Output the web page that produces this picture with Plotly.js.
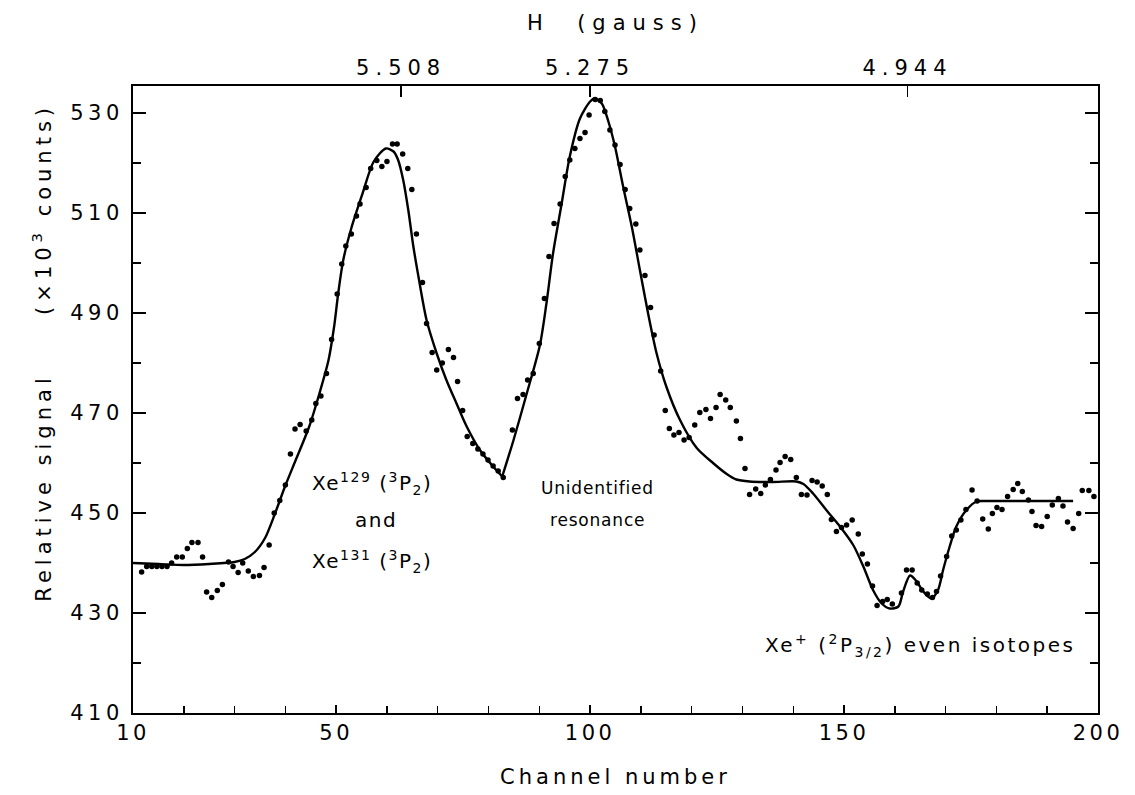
<!DOCTYPE html>
<html>
<head>
<meta charset="utf-8">
<script src="https://cdn.plot.ly/plotly-3.0.1.min.js"></script>
<style>
  body { margin: 0; background: #fff; }
  #chart { width: 1135px; height: 795px; }
  .xtitle { letter-spacing: 4px; }
  .x2title { letter-spacing: 7px; }
  .xtick text { letter-spacing: 3.5px; }
  .ytick text { letter-spacing: 4.5px; }
  .x2tick text { letter-spacing: 6px; }
</style>
</head>
<body>
<div id="chart"></div>
<script>
// ---- measured data points (channel, relative signal x10^3 counts) ----
const pointChannels = [
  11.7, 12.7, 13.7, 14.7, 15.7, 16.7, 17.6, 18.6, 19.7, 20.7, 21.6, 22.8, 23.7, 24.5, 25.5, 26.6, 27.6,
  28.8, 29.7, 30.7, 31.6, 32.7, 33.7, 34.9, 35.8, 36.8, 37.8, 38.9, 40.0, 41.0, 41.9, 42.9, 44.1, 45.2,
  46.0, 47.0, 48.1, 49.1, 50.2, 51.1, 51.9, 53.0, 54.0, 54.7, 55.9, 56.8, 58.0, 59.0, 60.0, 61.1, 62.0,
  63.1, 64.1, 64.9, 65.8, 67.0, 67.8, 68.9, 69.8, 70.9, 72.1, 73.1, 73.9, 74.9, 75.8, 76.9, 77.9, 78.9,
  79.9, 80.9, 81.9, 82.9, 84.7, 85.7, 86.8, 87.7, 88.8, 90.0, 91.0, 91.9, 92.9, 94.1, 95.1, 96.0, 97.0,
  98.0, 99.0, 99.8, 101.0, 102.0, 102.9, 103.9, 104.9, 105.9, 106.9, 107.8, 109.0, 109.8, 110.8, 111.9,
  112.6, 113.9, 114.8, 115.6, 116.5, 117.5, 118.5, 119.5, 120.6, 121.6, 122.8, 123.7, 124.8, 125.6,
  126.7, 127.6, 128.8, 129.6, 130.5, 131.4, 132.6, 133.6, 134.5, 135.5, 136.6, 137.4, 138.4, 139.5,
  140.6, 141.6, 142.7, 143.7, 144.7, 145.7, 146.7, 147.5, 148.5, 149.5, 150.5, 151.6, 152.8, 153.6,
  154.6, 155.6, 156.5, 157.6, 158.5, 159.5, 161.3, 162.3, 163.4, 164.4, 165.3, 166.4, 167.4, 168.2,
  169.0, 170.2, 171.2, 172.1, 173.0, 174.0, 175.2, 176.2, 177.3, 178.4, 179.2, 180.1, 181.1, 182.2,
  183.3, 184.2, 185.1, 186.3, 187.0, 187.8, 188.9, 190.0, 191.0, 192.2, 193.1, 194.0, 195.1, 196.2,
  196.9, 198.2, 199.2
];
const pointSignal = [
  438.2, 439.3, 439.3, 439.3, 439.3, 439.3, 440.0, 441.2, 441.2, 442.9, 444.1, 444.1, 441.2, 434.2, 433.1, 434.5, 435.7,
  440.2, 439.3, 438.1, 440.0, 438.4, 437.3, 437.5, 439.1, 443.6, 450.0, 452.5, 455.6, 461.8, 466.8, 467.7, 466.4, 468.6,
  471.9, 473.4, 477.9, 484.7, 493.8, 499.8, 503.4, 505.8, 509.4, 511.8, 515.1, 518.9, 520.5, 519.3, 520.3, 523.8, 523.8,
  521.8, 518.9, 514.7, 505.8, 496.1, 487.9, 482.1, 478.6, 480.0, 482.7, 481.1, 476.3, 470.5, 465.3, 463.9, 462.8, 461.8,
  460.6, 459.4, 458.4, 457.1, 466.6, 472.9, 473.7, 476.6, 477.9, 483.9, 492.9, 501.3, 507.9, 511.8, 517.3, 520.6, 522.9,
  524.9, 526.1, 529.6, 532.7, 532.5, 530.3, 526.6, 523.6, 519.7, 514.7, 510.9, 507.8, 502.6, 497.5, 491.1,
  485.6, 478.4, 470.5, 466.9, 465.6, 466.1, 464.6, 465.1, 467.6, 470.1, 470.7, 468.9, 471.1, 473.7,
  472.6, 471.1, 468.4, 464.9, 458.9, 453.7, 454.8, 453.9, 455.6, 456.7, 458.6, 460.1, 461.3, 460.7,
  457.1, 453.7, 453.6, 456.5, 456.2, 455.4, 453.7, 448.7, 446.3, 447.1, 447.6, 448.6, 445.8, 441.8,
  439.8, 435.4, 431.5, 432.3, 432.7, 431.8, 434.0, 438.6, 438.6, 436.0, 434.6, 433.8, 433.1, 434.3,
  437.4, 441.3, 445.4, 446.6, 448.6, 450.7, 454.6, 452.4, 448.8, 446.8, 449.9, 451.1, 450.7, 453.3,
  454.7, 455.9, 454.3, 452.6, 450.3, 447.5, 447.3, 449.3, 451.6, 452.9, 451.4, 448.2, 446.9, 449.9,
  454.5, 454.5, 453.3
];

// ---- fitted curve, first branch (up to the cusp) ----
const fitChannelsA = [10, 15, 20, 25, 30, 32, 34, 36, 38, 40, 42, 44.7, 46.7, 48.5, 49.6, 50.4, 51.4, 53.0,
  55.2, 57.4, 59.8, 61.3, 62.2, 63.2, 64.2, 65.2, 66.2, 67.8, 69.8, 71.7, 73.7, 75.7, 78.3, 80.9, 82.7];
const fitSignalA = [440.0, 439.8, 439.6, 439.8, 440.2, 440.8, 442.2, 445.0, 450.0, 455.5, 460.5, 467.3, 473.9, 480.6,
  487.3, 493.9, 500.6, 507.0, 513.9, 520.3, 522.9, 522.3, 520.6, 516.6, 510.6, 503.3, 497.3, 488.6, 481.9, 476.6,
  471.9, 467.3, 462.6, 459.3, 457.3];

// ---- fitted curve, second branch (from the cusp) ----
const fitChannelsB = [82.7, 84.9, 87.5, 90.1, 91.4, 92.7, 94.4, 96.0, 98.0, 100.0, 100.9, 102.3, 103.6, 104.9,
  106.5, 108.2, 109.8, 111.4, 113.1, 115.0, 117.7, 121.0, 124.2, 126.9, 128.8, 131.4, 136.0, 140.6, 142.0,
  143.9, 146.5, 149.2, 151.8, 153.8, 155.7, 157.4, 159.0, 160.7, 161.6, 163.0, 164.3, 165.6, 167.2, 168.5,
  169.5, 170.8, 172.1, 174.1, 176.1, 178.0, 186.0, 195.1];
const fitSignalB = [457.3, 464.5, 473.8, 483.5, 491.9, 501.9, 511.9, 521.3, 528.9, 532.3, 532.9, 531.9, 528.3, 523.3,
  515.3, 507.3, 498.6, 490.0, 481.9, 475.3, 468.6, 463.0, 460.0, 457.8, 456.7, 456.3, 456.2, 456.3, 455.8,
  453.9, 450.6, 447.3, 443.6, 439.3, 434.6, 431.9, 430.9, 431.3, 434.2, 437.5, 436.3, 434.3, 432.9, 434.6,
  438.6, 443.3, 447.3, 450.6, 452.3, 452.4, 452.4, 452.4];

// ---- axes ----
const xTickValues = [10, 50, 100, 150, 200];
const xTickLabels = ['10', '50', '100', '150', '200'];
const yTickValues = [410, 430, 450, 470, 490, 510, 530];
const yTickLabels = ['410', '430', '450', '470', '490', '510', '530'];
const fieldTickChannels = [62.8, 100.0, 162.5];
const fieldTickLabels = ['5.508', '5.275', '4.944'];

const FONT = 'DejaVu Sans, sans-serif';
const INK = '#000';

const traces = [
  { x: pointChannels, y: pointSignal, type: 'scatter', mode: 'markers',
    marker: { color: INK, size: 5.5 }, xaxis: 'x', yaxis: 'y' },
  { x: fitChannelsA, y: fitSignalA, type: 'scatter', mode: 'lines',
    line: { color: INK, width: 2.4, shape: 'spline', smoothing: 0.8 }, xaxis: 'x', yaxis: 'y' },
  { x: fitChannelsB, y: fitSignalB, type: 'scatter', mode: 'lines',
    line: { color: INK, width: 2.4, shape: 'spline', smoothing: 0.8 }, xaxis: 'x', yaxis: 'y' },
  { x: [], y: [], xaxis: 'x2', yaxis: 'y', type: 'scatter', showlegend: false }
];

const layout = {
  width: 1135, height: 795,
  margin: { l: 133, r: 37, t: 86, b: 82 },
  paper_bgcolor: '#fff', plot_bgcolor: '#fff',
  showlegend: false,
  font: { family: FONT, size: 21, color: INK },
  xaxis: {
    range: [10, 200], tickmode: 'array', tickvals: xTickValues, ticktext: xTickLabels,
    ticks: 'inside', ticklen: 8, tickwidth: 1.5, tickcolor: INK,
    minor: { dtick: 10, tick0: 10, ticks: 'inside', ticklen: 7, tickwidth: 1.5, tickcolor: INK, showgrid: false },
    showline: true, linecolor: INK, linewidth: 2, mirror: true,
    showgrid: false, zeroline: false,
    tickfont: { family: FONT, size: 21, color: INK },
    title: { text: 'Channel number', font: { family: FONT, size: 21, color: INK }, standoff: 25 }
  },
  xaxis2: {
    overlaying: 'x', side: 'top', range: [10, 200],
    tickmode: 'array', tickvals: fieldTickChannels, ticktext: fieldTickLabels,
    ticks: 'inside', ticklen: 11, tickwidth: 1.5, tickcolor: INK, ticklabelstandoff: 6,
    showline: false, showgrid: false, zeroline: false,
    tickfont: { family: FONT, size: 21, color: INK },
    title: { text: 'H\u00a0\u00a0(gauss)', font: { family: FONT, size: 21, color: INK }, standoff: 19 }
  },
  yaxis: {
    range: [410, 535.4], tickmode: 'array', tickvals: yTickValues, ticktext: yTickLabels,
    ticks: 'inside', ticklen: 13, tickwidth: 1.5, tickcolor: INK, ticklabelstandoff: 3,
    minor: { dtick: 10, tick0: 410, ticks: 'inside', ticklen: 8, tickwidth: 1.5, tickcolor: INK, showgrid: false },
    showline: true, linecolor: INK, linewidth: 2, mirror: 'ticks',
    showgrid: false, zeroline: false,
    tickfont: { family: FONT, size: 21, color: INK }
  },
  annotations: [
    { x: -0.094, y: 0.575, xref: 'paper', yref: 'paper', xanchor: 'center', yanchor: 'middle', textangle: -90, showarrow: false,
      text: '<span style="letter-spacing:5px">Relative signal\u00a0\u00a0\u00a0\u00a0\u00a0(\u00d710<sup>3</sup>\u00a0counts)</span>',
      font: { family: FONT, size: 21, color: INK } },
    { x: 44.8, y: 456, xref: 'x', yref: 'y', xanchor: 'left', showarrow: false, text: '<span style="letter-spacing:1.5px">Xe<sup>129</sup>\u00a0(<sup>3</sup>P<sub>2</sub>)</span>', font: { family: FONT, size: 20, color: INK } },
    { x: 57.9, y: 448.6, xref: 'x', yref: 'y', showarrow: false, text: '<span style="letter-spacing:1.5px">and</span>', font: { family: FONT, size: 20, color: INK } },
    { x: 44.8, y: 440.4, xref: 'x', yref: 'y', xanchor: 'left', showarrow: false, text: '<span style="letter-spacing:1.5px">Xe<sup>131</sup>\u00a0(<sup>3</sup>P<sub>2</sub>)</span>', font: { family: FONT, size: 20, color: INK } },
    { x: 101.5, y: 455, xref: 'x', yref: 'y', showarrow: false, text: '<span style="letter-spacing:0.8px">Unidentified</span>', font: { family: FONT, size: 17, color: INK } },
    { x: 101.5, y: 448.6, xref: 'x', yref: 'y', showarrow: false, text: '<span style="letter-spacing:0.8px">resonance</span>', font: { family: FONT, size: 17, color: INK } },
    { x: 195.8, y: 423.6, xref: 'x', yref: 'y', xanchor: 'right', showarrow: false, text: '<span style="letter-spacing:2.5px">Xe<sup>+</sup>\u00a0(<sup>2</sup>P<sub>3/2</sub>)\u00a0even\u00a0isotopes</span>', font: { family: FONT, size: 20, color: INK } }
  ]
};

Plotly.newPlot('chart', traces, layout, { staticPlot: true, displayModeBar: false });
</script>
</body>
</html>
